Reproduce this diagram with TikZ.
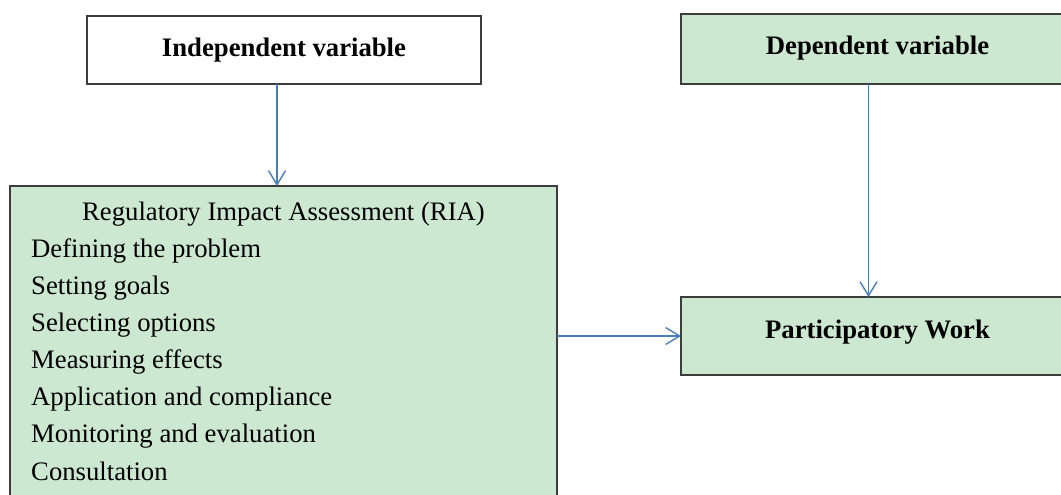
\documentclass[tikz,border=0pt]{standalone}
\usepackage{fontspec}
\setmainfont{Liberation Serif}
\usepackage{xcolor}
\usetikzlibrary{arrows.meta,positioning}
\definecolor{boxgreen}{RGB}{205,232,208}
\definecolor{arrowblue}{RGB}{74,126,187}
\definecolor{boxline}{RGB}{60,60,60}

\begin{document}
\begin{tikzpicture}[
  x=1pt, y=-1pt,
  font=\fontsize{26.7}{37.05}\selectfont,
  box/.style={
    rectangle, draw=boxline, line width=1.1pt,
    anchor=north west, inner sep=0pt, outer sep=0pt,
  },
  greenbox/.style={box, fill=boxgreen},
  hd/.style={font=\fontsize{26.7}{37.05}\selectfont\bfseries, text height=18pt},
  arr/.style={draw=arrowblue, line width=1.4pt,
              -{Straight Barb[length=14pt,width=17pt,line width=1.4pt]}},
]
  \clip (0,0) rectangle (1061,495);
  % INDEPENDENT
  \node[box, hd, text depth=4pt, minimum width=394pt, minimum height=68pt] (indep) at (87,16) {Independent variable};
  % DEPENDENT
  \node[greenbox, hd, text depth=6pt, minimum width=393pt, minimum height=70pt] (dep) at (681,14) {Dependent variable};
  % RIA
  \node[greenbox, minimum width=547pt, minimum height=330pt] (ria) at (10,186) {};
  \node[anchor=base] (ria-title) at (283.5,220) {Regulatory Impact Assessment (RIA)};
  % base of a multi-line node = last line
  \node[anchor=base west, align=left, inner sep=0pt] (ria-list) at (31,480) {Defining the problem\\Setting goals\\Selecting options\\Measuring effects\\Application and compliance\\Monitoring and evaluation\\Consultation};
  % PARTICIPATORY WORK
  \node[greenbox, hd, text depth=14pt, minimum width=393pt, minimum height=78pt] (pw) at (681,297) {Participatory Work};
  % links
  \draw[arr] ([xshift=-7pt]indep.south) -- ([xshift=-6.5pt]ria.north);
  \draw[arr] ([xshift=-9pt]dep.south) -- ([xshift=-9pt]pw.north);
  \draw[arr] (ria.east |- pw.west) -- (pw.west);
\end{tikzpicture}
\end{document}
